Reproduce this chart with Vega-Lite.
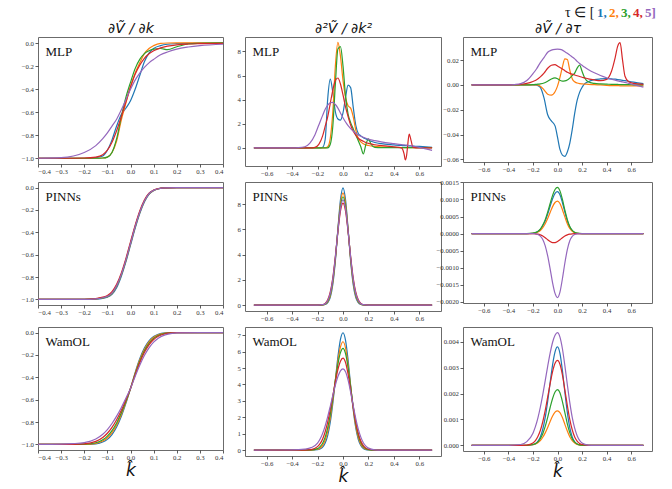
{
"$schema": "https://vega.github.io/schema/vega-lite/v6.json",
"autosize": {"type": "pad"},
"padding": {"left": 20, "top": 6, "right": 5, "bottom": 0},
"background": "white",
"config": {
  "view": {"stroke": "#6b6b6b", "strokeWidth": 1},
  "font": "Liberation Serif",
  "axis": {"domain": false, "grid": false, "tickSize": 3, "tickColor": "#333", "tickWidth": 0.8, "labelFont": "Liberation Serif", "labelFontSize": 6.8, "labelColor": "#333", "labelPadding": 1.5},
  "axisY": {"titleAngle": 0, "titleX": 7, "titleY": 18, "titleAlign": "left", "titleBaseline": "alphabetic", "titleFont": "Liberation Serif", "titleFontSize": 13, "titleFontWeight": "normal", "titleColor": "#111", "titlePadding": 0},
  "axisX": {"titleFont": "DejaVu Sans", "titleFontSize": 17, "titleFontStyle": "italic", "titleFontWeight": "normal", "titleColor": "#111", "titlePadding": 1},
  "line": {"strokeWidth": 1.2, "interpolate": "monotone", "clip": true}
},
"datasets": {
"A": [
{"x":-0.4,"1":-1,"2":-1,"3":-1,"4":-1,"5":-1},
{"x":-0.3,"1":-1,"2":-1,"3":-1,"4":-1,"5":-0.995},
{"x":-0.2,"1":-1,"2":-1,"3":-1,"4":-0.998,"5":-0.95},
{"x":-0.15,"1":-0.995,"2":-1,"3":-1,"4":-0.99,"5":-0.89},
{"x":-0.12,"1":-0.98,"2":-0.998,"3":-0.998,"4":-0.97,"5":-0.83},
{"x":-0.1,"1":-0.93,"2":-0.99,"3":-0.99,"4":-0.93,"5":-0.78},
{"x":-0.08,"1":-0.84,"2":-0.95,"3":-0.95,"4":-0.86,"5":-0.72},
{"x":-0.06,"1":-0.72,"2":-0.85,"3":-0.83,"4":-0.76,"5":-0.66},
{"x":-0.04,"1":-0.62,"2":-0.67,"3":-0.64,"4":-0.64,"5":-0.58},
{"x":-0.02,"1":-0.565,"2":-0.52,"3":-0.47,"4":-0.51,"5":-0.49},
{"x":0,"1":-0.5,"2":-0.38,"3":-0.34,"4":-0.38,"5":-0.4},
{"x":0.02,"1":-0.4,"2":-0.26,"3":-0.22,"4":-0.27,"5":-0.32},
{"x":0.04,"1":-0.28,"2":-0.17,"3":-0.14,"4":-0.19,"5":-0.26},
{"x":0.06,"1":-0.16,"2":-0.09,"3":-0.09,"4":-0.13,"5":-0.21},
{"x":0.08,"1":-0.085,"2":-0.045,"3":-0.065,"4":-0.09,"5":-0.17},
{"x":0.1,"1":-0.045,"2":-0.02,"3":-0.05,"4":-0.065,"5":-0.14},
{"x":0.13,"1":-0.02,"2":0,"3":-0.045,"4":-0.04,"5":-0.1},
{"x":0.16,"1":-0.008,"2":0.003,"3":-0.055,"4":-0.025,"5":-0.075},
{"x":0.2,"1":-0.003,"2":0.004,"3":-0.03,"4":-0.013,"5":-0.05},
{"x":0.25,"1":0,"2":0.004,"3":-0.006,"4":-0.006,"5":-0.032},
{"x":0.3,"1":0.002,"2":0.004,"3":0,"4":-0.003,"5":-0.02},
{"x":0.4,"1":0.003,"2":0.005,"3":0.004,"4":0,"5":-0.008}
],
"B": [
{"x":-0.4,"1":-1,"2":-1,"3":-1,"4":-1,"5":-1},
{"x":-0.2,"1":-1,"2":-1,"3":-1,"4":-1,"5":-1},
{"x":-0.15,"1":-0.997,"2":-0.996,"3":-0.996,"4":-0.993,"5":-0.995},
{"x":-0.12,"1":-0.99,"2":-0.987,"3":-0.987,"4":-0.98,"5":-0.985},
{"x":-0.1,"1":-0.98,"2":-0.976,"3":-0.975,"4":-0.965,"5":-0.973},
{"x":-0.08,"1":-0.955,"2":-0.947,"3":-0.945,"4":-0.93,"5":-0.943},
{"x":-0.06,"1":-0.895,"2":-0.883,"3":-0.88,"4":-0.865,"5":-0.878},
{"x":-0.04,"1":-0.795,"2":-0.783,"3":-0.78,"4":-0.765,"5":-0.778},
{"x":-0.02,"1":-0.665,"2":-0.653,"3":-0.65,"4":-0.635,"5":-0.648},
{"x":0,"1":-0.515,"2":-0.503,"3":-0.5,"4":-0.485,"5":-0.5},
{"x":0.02,"1":-0.365,"2":-0.353,"3":-0.35,"4":-0.338,"5":-0.35},
{"x":0.04,"1":-0.232,"2":-0.223,"3":-0.22,"4":-0.21,"5":-0.22},
{"x":0.06,"1":-0.128,"2":-0.122,"3":-0.12,"4":-0.112,"5":-0.12},
{"x":0.08,"1":-0.06,"2":-0.057,"3":-0.055,"4":-0.05,"5":-0.055},
{"x":0.1,"1":-0.027,"2":-0.026,"3":-0.025,"4":-0.022,"5":-0.025},
{"x":0.12,"1":-0.011,"2":-0.01,"3":-0.01,"4":-0.009,"5":-0.01},
{"x":0.15,"1":-0.002,"2":-0.002,"3":-0.002,"4":-0.002,"5":-0.002},
{"x":0.2,"1":0,"2":0,"3":0,"4":0,"5":0},
{"x":0.4,"1":0,"2":0,"3":0,"4":0,"5":0}
],
"C": [
{"x":-0.4,"1":-1,"2":-1,"3":-1,"4":-1,"5":-0.999},
{"x":-0.3,"1":-1,"2":-1,"3":-1,"4":-1,"5":-0.997},
{"x":-0.25,"1":-1,"2":-1,"3":-0.9998,"4":-0.9993,"5":-0.993},
{"x":-0.2,"1":-0.9997,"2":-0.9991,"3":-0.998,"4":-0.9948,"5":-0.984},
{"x":-0.15,"1":-0.9945,"2":-0.99,"3":-0.985,"4":-0.973,"5":-0.952},
{"x":-0.12,"1":-0.979,"2":-0.97,"3":-0.959,"4":-0.938,"5":-0.909},
{"x":-0.1,"1":-0.955,"2":-0.941,"3":-0.926,"4":-0.9,"5":-0.867},
{"x":-0.08,"1":-0.912,"2":-0.894,"3":-0.877,"4":-0.8475,"5":-0.813},
{"x":-0.06,"1":-0.845,"2":-0.826,"3":-0.808,"4":-0.779,"5":-0.7475},
{"x":-0.04,"1":-0.751,"2":-0.734,"3":-0.719,"4":-0.696,"5":-0.6715},
{"x":-0.02,"1":-0.633,"2":-0.623,"3":-0.614,"4":-0.601,"5":-0.588},
{"x":0,"1":-0.5,"2":-0.5,"3":-0.5,"4":-0.5,"5":-0.5},
{"x":0.02,"1":-0.358,"2":-0.365,"3":-0.373,"4":-0.379,"5":-0.392},
{"x":0.04,"1":-0.234,"2":-0.245,"3":-0.258,"4":-0.269,"5":-0.292},
{"x":0.06,"1":-0.138,"2":-0.151,"3":-0.1645,"4":-0.178,"5":-0.2055},
{"x":0.08,"1":-0.073,"2":-0.084,"3":-0.097,"4":-0.109,"5":-0.1365},
{"x":0.1,"1":-0.0345,"2":-0.042,"3":-0.052,"4":-0.062,"5":-0.085},
{"x":0.12,"1":-0.0146,"2":-0.019,"3":-0.0255,"4":-0.0324,"5":-0.05},
{"x":0.15,"1":-0.0032,"2":-0.005,"3":-0.007,"4":-0.0105,"5":-0.02},
{"x":0.18,"1":-0.0005,"2":-0.001,"3":-0.0017,"4":-0.0028,"5":-0.0068},
{"x":0.2,"1":0,"2":0,"3":-0.0006,"4":-0.001,"5":-0.003},
{"x":0.3,"1":0,"2":0,"3":0,"4":0,"5":0},
{"x":0.4,"1":0,"2":0,"3":0,"4":0,"5":0}
],
"D": [
{"x":-0.7,"1":0,"2":0,"3":0,"4":0,"5":0},
{"x":-0.5,"1":0,"2":0,"3":0,"4":0,"5":0},
{"x":-0.4,"1":0,"2":0,"3":0,"4":0,"5":0},
{"x":-0.35,"1":0,"2":0,"3":0,"4":0,"5":0.02},
{"x":-0.3,"1":0,"2":0,"3":0,"4":0,"5":0.1},
{"x":-0.26,"1":0,"2":0,"3":0,"4":0,"5":0.4},
{"x":-0.22,"1":0,"2":0,"3":0,"4":0.05,"5":1.1},
{"x":-0.19,"1":0,"2":0,"3":0,"4":0.3,"5":1.9},
{"x":-0.16,"1":0.05,"2":0,"3":0,"4":1.0,"5":2.7},
{"x":-0.14,"1":0.7,"2":0,"3":0,"4":1.8,"5":3.2},
{"x":-0.12,"1":4.1,"2":0.1,"3":0,"4":2.6,"5":3.55},
{"x":-0.1,"1":5.7,"2":0.8,"3":0.3,"4":3.7,"5":3.75},
{"x":-0.08,"1":4.6,"2":3.0,"3":1.8,"4":4.8,"5":3.78},
{"x":-0.06,"1":3.0,"2":6.8,"3":5.3,"4":5.6,"5":3.6},
{"x":-0.04,"1":2.4,"2":8.75,"3":8.2,"4":5.8,"5":3.3},
{"x":-0.02,"1":2.3,"2":7.6,"3":8.4,"4":5.3,"5":2.9},
{"x":0,"1":2.9,"2":5.6,"3":6.8,"4":4.4,"5":2.5},
{"x":0.02,"1":4.2,"2":4.2,"3":4.3,"4":3.4,"5":2.15},
{"x":0.04,"1":5.2,"2":3.5,"3":2.8,"4":2.6,"5":1.85},
{"x":0.06,"1":5.0,"2":3.3,"3":2.1,"4":1.9,"5":1.6},
{"x":0.08,"1":3.4,"2":2.6,"3":1.6,"4":1.4,"5":1.4},
{"x":0.1,"1":1.9,"2":1.5,"3":1.1,"4":1.05,"5":1.22},
{"x":0.12,"1":1.2,"2":0.8,"3":0.6,"4":0.8,"5":1.08},
{"x":0.14,"1":1.0,"2":0.5,"3":0.1,"4":0.65,"5":0.97},
{"x":0.16,"1":0.85,"2":0.35,"3":-0.5,"4":0.55,"5":0.88},
{"x":0.18,"1":0.75,"2":0.25,"3":0.3,"4":0.45,"5":0.8},
{"x":0.2,"1":0.65,"2":0.2,"3":0.75,"4":0.38,"5":0.73},
{"x":0.22,"1":0.55,"2":0.16,"3":0.3,"4":0.33,"5":0.67},
{"x":0.25,"1":0.45,"2":0.12,"3":0.05,"4":0.26,"5":0.6},
{"x":0.3,"1":0.35,"2":0.08,"3":0.02,"4":0.2,"5":0.5},
{"x":0.4,"1":0.25,"2":0.04,"3":0.02,"4":0.08,"5":0.35},
{"x":0.46,"1":0.2,"2":0.03,"3":0.02,"4":0,"5":0.27},
{"x":0.48,"1":0.19,"2":0.02,"3":0.02,"4":-0.5,"5":0.25},
{"x":0.49,"1":0.19,"2":0.02,"3":0.02,"4":-1.0,"5":0.24},
{"x":0.5,"1":0.18,"2":0.02,"3":0.02,"4":-0.6,"5":0.23},
{"x":0.51,"1":0.17,"2":0.02,"3":0.02,"4":0.4,"5":0.22},
{"x":0.52,"1":0.17,"2":0.02,"3":0.02,"4":1.15,"5":0.2},
{"x":0.535,"1":0.16,"2":0.02,"3":0.02,"4":0.6,"5":0.18},
{"x":0.55,"1":0.15,"2":0.02,"3":0.02,"4":0.05,"5":0.15},
{"x":0.6,"1":0.12,"2":0.02,"3":0.02,"4":0,"5":0.05},
{"x":0.7,"1":0.05,"2":0.02,"3":0.02,"4":0,"5":-0.2}
],
"E": [
{"x":-0.7,"1":0,"2":0,"3":0,"4":0,"5":0},
{"x":-0.3,"1":0,"2":0,"3":0,"4":0,"5":0},
{"x":-0.2,"1":0.001,"2":0.002,"3":0.003,"4":0.006,"5":0.004},
{"x":-0.16,"1":0.009,"2":0.015,"3":0.02,"4":0.04,"5":0.03},
{"x":-0.14,"1":0.046,"2":0.07,"3":0.09,"4":0.14,"5":0.11},
{"x":-0.12,"1":0.19,"2":0.25,"3":0.3,"4":0.42,"5":0.36},
{"x":-0.1,"1":0.62,"2":0.74,"3":0.84,"4":1.04,"5":0.94},
{"x":-0.08,"1":1.65,"2":1.81,"3":1.95,"4":2.17,"5":2.06},
{"x":-0.06,"1":3.51,"2":3.63,"3":3.73,"4":3.86,"5":3.8},
{"x":-0.04,"1":6.04,"2":5.98,"3":5.93,"4":5.83,"5":5.88},
{"x":-0.02,"1":8.35,"2":8.05,"3":7.84,"4":7.46,"5":7.65},
{"x":0,"1":9.3,"2":8.9,"3":8.6,"4":8.1,"5":8.35},
{"x":0.02,"1":8.35,"2":8.05,"3":7.84,"4":7.46,"5":7.65},
{"x":0.04,"1":6.04,"2":5.98,"3":5.93,"4":5.83,"5":5.88},
{"x":0.06,"1":3.51,"2":3.63,"3":3.73,"4":3.86,"5":3.8},
{"x":0.08,"1":1.65,"2":1.81,"3":1.95,"4":2.17,"5":2.06},
{"x":0.1,"1":0.62,"2":0.74,"3":0.84,"4":1.04,"5":0.94},
{"x":0.12,"1":0.19,"2":0.25,"3":0.3,"4":0.42,"5":0.36},
{"x":0.14,"1":0.046,"2":0.07,"3":0.09,"4":0.14,"5":0.11},
{"x":0.16,"1":0.009,"2":0.015,"3":0.02,"4":0.04,"5":0.03},
{"x":0.2,"1":0.001,"2":0.002,"3":0.003,"4":0.006,"5":0.004},
{"x":0.3,"1":0,"2":0,"3":0,"4":0,"5":0},
{"x":0.7,"1":0,"2":0,"3":0,"4":0,"5":0}
],
"F": [
{"x":-0.7,"1":0,"2":0,"3":0,"4":0,"5":0},
{"x":-0.4,"1":0,"2":0,"3":0,"4":0,"5":0.01},
{"x":-0.3,"1":0,"2":0,"3":0,"4":0.002,"5":0.06},
{"x":-0.25,"1":0,"2":0.003,"3":0.01,"4":0.03,"5":0.15},
{"x":-0.2,"1":0.02,"2":0.05,"3":0.09,"4":0.21,"5":0.42},
{"x":-0.18,"1":0.07,"2":0.13,"3":0.21,"4":0.39,"5":0.67},
{"x":-0.16,"1":0.18,"2":0.29,"3":0.42,"4":0.68,"5":1.02},
{"x":-0.14,"1":0.43,"2":0.6,"3":0.79,"4":1.12,"5":1.48},
{"x":-0.12,"1":0.9,"2":1.14,"3":1.37,"4":1.72,"5":2.04},
{"x":-0.1,"1":1.7,"2":1.95,"3":2.17,"4":2.46,"5":2.67},
{"x":-0.08,"1":2.85,"2":3.02,"3":3.17,"4":3.31,"5":3.33},
{"x":-0.06,"1":4.26,"2":4.25,"3":4.25,"4":4.16,"5":3.96},
{"x":-0.04,"1":5.68,"2":5.43,"3":5.24,"4":4.91,"5":4.48},
{"x":-0.02,"1":6.75,"2":6.28,"3":5.94,"4":5.42,"5":4.83},
{"x":0,"1":7.15,"2":6.6,"3":6.2,"4":5.6,"5":4.95},
{"x":0.02,"1":6.69,"2":6.22,"3":5.88,"4":5.34,"5":4.77},
{"x":0.04,"1":5.49,"2":5.2,"3":5.02,"4":4.63,"5":4.26},
{"x":0.06,"1":3.94,"2":3.87,"3":3.85,"4":3.66,"5":3.53},
{"x":0.08,"1":2.48,"2":2.55,"3":2.66,"4":2.63,"5":2.72},
{"x":0.1,"1":1.37,"2":1.49,"3":1.65,"4":1.72,"5":1.94},
{"x":0.12,"1":0.66,"2":0.78,"3":0.92,"4":1.02,"5":1.28},
{"x":0.14,"1":0.28,"2":0.36,"3":0.46,"4":0.55,"5":0.79},
{"x":0.16,"1":0.1,"2":0.15,"3":0.21,"4":0.27,"5":0.45},
{"x":0.18,"1":0.03,"2":0.05,"3":0.09,"4":0.12,"5":0.24},
{"x":0.2,"1":0.01,"2":0.02,"3":0.03,"4":0.05,"5":0.12},
{"x":0.25,"1":0,"2":0,"3":0,"4":0.005,"5":0.015},
{"x":0.3,"1":0,"2":0,"3":0,"4":0,"5":0},
{"x":0.4,"1":0,"2":0,"3":0,"4":0,"5":0},
{"x":0.7,"1":0,"2":0,"3":0,"4":0,"5":0}
],
"G": [
{"x":-0.7,"1":0,"2":0,"3":0,"4":0,"5":0},
{"x":-0.4,"1":0,"2":0,"3":0,"4":0,"5":0},
{"x":-0.35,"1":0,"2":0,"3":0,"4":0.0002,"5":0.0003},
{"x":-0.3,"1":0,"2":0,"3":0,"4":0.0005,"5":0.001},
{"x":-0.25,"1":0,"2":0,"3":0,"4":0.0012,"5":0.0035},
{"x":-0.2,"1":0,"2":0,"3":0.0002,"4":0.0028,"5":0.009},
{"x":-0.17,"1":-0.0002,"2":0,"3":0.0005,"4":0.0042,"5":0.013},
{"x":-0.14,"1":-0.002,"2":-0.001,"3":0.0008,"4":0.0065,"5":0.018},
{"x":-0.11,"1":-0.0105,"2":-0.004,"3":0.0015,"4":0.0095,"5":0.022},
{"x":-0.08,"1":-0.024,"2":-0.0075,"3":0.003,"4":0.0134,"5":0.0263},
{"x":-0.05,"1":-0.029,"2":-0.0083,"3":0.0048,"4":0.0158,"5":0.028},
{"x":-0.02,"1":-0.033,"2":-0.0055,"3":0.0057,"4":0.0163,"5":0.0287},
{"x":0,"1":-0.042,"2":-0.001,"3":0.005,"4":0.0152,"5":0.0288},
{"x":0.02,"1":-0.052,"2":0.006,"3":0.0038,"4":0.014,"5":0.0286},
{"x":0.04,"1":-0.0565,"2":0.0145,"3":0.003,"4":0.0128,"5":0.028},
{"x":0.06,"1":-0.0575,"2":0.021,"3":0.0032,"4":0.0115,"5":0.0268},
{"x":0.08,"1":-0.054,"2":0.0205,"3":0.004,"4":0.0102,"5":0.0255},
{"x":0.1,"1":-0.047,"2":0.012,"3":0.0055,"4":0.0093,"5":0.024},
{"x":0.12,"1":-0.036,"2":0.005,"3":0.0075,"4":0.0087,"5":0.0225},
{"x":0.14,"1":-0.023,"2":0.0025,"3":0.0095,"4":0.008,"5":0.021},
{"x":0.16,"1":-0.0125,"2":0.0015,"3":0.0135,"4":0.0074,"5":0.019},
{"x":0.18,"1":-0.006,"2":0.001,"3":0.016,"4":0.0068,"5":0.0172},
{"x":0.2,"1":-0.002,"2":0.0008,"3":0.011,"4":0.0062,"5":0.0158},
{"x":0.22,"1":0.0008,"2":0.0007,"3":0.006,"4":0.0057,"5":0.0144},
{"x":0.25,"1":0.0025,"2":0.0005,"3":0.0025,"4":0.0049,"5":0.0125},
{"x":0.3,"1":0.0043,"2":0.0002,"3":0.0012,"4":0.004,"5":0.0098},
{"x":0.35,"1":0.0048,"2":0,"3":0.0008,"4":0.0035,"5":0.0076},
{"x":0.4,"1":0.005,"2":-0.0003,"3":0.0006,"4":0.0045,"5":0.0058},
{"x":0.44,"1":0.0049,"2":-0.0005,"3":0.0005,"4":0.011,"5":0.0046},
{"x":0.47,"1":0.0046,"2":-0.0006,"3":0.0004,"4":0.022,"5":0.0038},
{"x":0.49,"1":0.0043,"2":-0.0006,"3":0.0004,"4":0.031,"5":0.0033},
{"x":0.51,"1":0.004,"2":-0.0007,"3":0.0003,"4":0.034,"5":0.0029},
{"x":0.53,"1":0.0037,"2":-0.0007,"3":0.0003,"4":0.02,"5":0.0024},
{"x":0.55,"1":0.0034,"2":-0.0007,"3":0.0002,"4":0.007,"5":0.002},
{"x":0.58,"1":0.0029,"2":-0.0008,"3":0.0002,"4":0.0025,"5":0.0012},
{"x":0.62,"1":0.0022,"2":-0.0008,"3":0.0001,"4":0.0012,"5":0.0002},
{"x":0.7,"1":0.001,"2":-0.0008,"3":0,"4":0.0005,"5":-0.0018}
],
"H": [
{"x":-0.7,"1":0,"2":0,"3":0,"4":0,"5":0},
{"x":-0.3,"1":0,"2":0,"3":0,"4":0,"5":0},
{"x":-0.25,"1":0,"2":0,"3":0,"4":0,"5":0},
{"x":-0.2,"1":0.00001,"2":0.000008,"3":0.000012,"4":0,"5":0},
{"x":-0.18,"1":0.000027,"2":0.00002,"3":0.00003,"4":-0.0000066,"5":-0.000009},
{"x":-0.16,"1":0.00006,"2":0.000046,"3":0.000065,"4":-0.000017,"5":-0.000027},
{"x":-0.14,"1":0.00012,"2":0.00009,"3":0.00013,"4":-0.000037,"5":-0.000073},
{"x":-0.12,"1":0.00023,"2":0.000176,"3":0.00025,"4":-0.000071,"5":-0.00017},
{"x":-0.1,"1":0.00037,"2":0.00029,"3":0.00041,"4":-0.00012,"5":-0.00036},
{"x":-0.08,"1":0.00057,"2":0.00044,"3":0.00063,"4":-0.000178,"5":-0.00065},
{"x":-0.06,"1":0.0008,"2":0.00062,"3":0.00088,"4":-0.000233,"5":-0.00103},
{"x":-0.04,"1":0.00102,"2":0.00079,"3":0.00112,"4":-0.000266,"5":-0.00144},
{"x":-0.02,"1":0.00118,"2":0.00091,"3":0.00129,"4":-0.000266,"5":-0.00175},
{"x":0,"1":0.00123,"2":0.00095,"3":0.00135,"4":-0.000233,"5":-0.00187},
{"x":0.02,"1":0.00114,"2":0.00088,"3":0.00125,"4":-0.000178,"5":-0.00171},
{"x":0.04,"1":0.00091,"2":0.0007,"3":0.001,"4":-0.00012,"5":-0.00132},
{"x":0.06,"1":0.00063,"2":0.00049,"3":0.00069,"4":-0.000071,"5":-0.00086},
{"x":0.08,"1":0.00037,"2":0.00029,"3":0.00041,"4":-0.000037,"5":-0.00047},
{"x":0.1,"1":0.00019,"2":0.00015,"3":0.00021,"4":-0.000017,"5":-0.00021},
{"x":0.12,"1":0.000086,"2":0.000066,"3":0.000094,"4":-0.0000066,"5":-0.000082},
{"x":0.14,"1":0.000033,"2":0.000025,"3":0.000036,"4":-0.000002,"5":-0.000027},
{"x":0.16,"1":0.000011,"2":0.000008,"3":0.000012,"4":0,"5":-0.000007},
{"x":0.2,"1":0,"2":0,"3":0,"4":0,"5":0},
{"x":0.25,"1":0,"2":0,"3":0,"4":0,"5":0},
{"x":0.3,"1":0,"2":0,"3":0,"4":0,"5":0},
{"x":0.7,"1":0,"2":0,"3":0,"4":0,"5":0}
],
"I": [
{"x":-0.7,"1":0,"2":0,"3":0,"4":0,"5":0},
{"x":-0.4,"1":0,"2":0,"3":0,"4":0,"5":0},
{"x":-0.3,"1":0,"2":0,"3":0,"4":0,"5":0.00003},
{"x":-0.25,"1":0,"2":0.000002,"3":0,"4":0.00001,"5":0.00014},
{"x":-0.2,"1":0.000025,"2":0.000022,"3":0.00003,"4":0.00009,"5":0.00047},
{"x":-0.18,"1":0.00006,"2":0.000049,"3":0.000065,"4":0.00018,"5":0.00072},
{"x":-0.16,"1":0.00015,"2":0.0001,"3":0.000135,"4":0.00034,"5":0.00105},
{"x":-0.14,"1":0.00032,"2":0.00018,"3":0.00026,"4":0.00057,"5":0.00147},
{"x":-0.12,"1":0.00062,"2":0.00031,"3":0.00045,"4":0.00091,"5":0.00196},
{"x":-0.1,"1":0.00108,"2":0.00048,"3":0.00073,"4":0.00135,"5":0.0025},
{"x":-0.08,"1":0.0017,"2":0.00069,"3":0.00108,"4":0.00186,"5":0.00305},
{"x":-0.06,"1":0.00242,"2":0.00092,"3":0.00146,"4":0.00238,"5":0.00356},
{"x":-0.04,"1":0.00311,"2":0.00113,"3":0.00181,"4":0.00285,"5":0.00398},
{"x":-0.02,"1":0.00361,"2":0.00128,"3":0.00206,"4":0.00317,"5":0.00425},
{"x":0,"1":0.0038,"2":0.00133,"3":0.00215,"4":0.00328,"5":0.00435},
{"x":0.02,"1":0.00355,"2":0.00126,"3":0.00203,"4":0.00313,"5":0.00418},
{"x":0.04,"1":0.00289,"2":0.00107,"3":0.00169,"4":0.00272,"5":0.00373},
{"x":0.06,"1":0.00205,"2":0.00081,"3":0.00126,"4":0.00214,"5":0.00308},
{"x":0.08,"1":0.00127,"2":0.00055,"3":0.00083,"4":0.00154,"5":0.00235},
{"x":0.1,"1":0.00068,"2":0.00033,"3":0.00049,"4":0.001,"5":0.00166},
{"x":0.12,"1":0.00032,"2":0.00018,"3":0.00025,"4":0.0006,"5":0.00108},
{"x":0.14,"1":0.00013,"2":0.000087,"3":0.00012,"4":0.00032,"5":0.00066},
{"x":0.16,"1":0.00005,"2":0.000038,"3":0.000048,"4":0.00016,"5":0.00037},
{"x":0.18,"1":0.000015,"2":0.000015,"3":0.000017,"4":0.00007,"5":0.00019},
{"x":0.2,"1":0,"2":0.000005,"3":0.000006,"4":0.00003,"5":0.00009},
{"x":0.25,"1":0,"2":0,"3":0,"4":0,"5":0.00001},
{"x":0.3,"1":0,"2":0,"3":0,"4":0,"5":0},
{"x":0.4,"1":0,"2":0,"3":0,"4":0,"5":0},
{"x":0.7,"1":0,"2":0,"3":0,"4":0,"5":0}
]
},
"columns": 3,
"align": "each",
"bounds": "flush",
"spacing": {"row": 16, "column": 22},
"concat": [
{
 "width": 185, "height": 127,
 "data": {"name": "A"},
 "transform": [{"fold": ["1","2","3","4","5"]}],
 "layer": [
  {"mark": "line",
   "encoding": {
    "x": {"field": "x", "type": "quantitative", "scale": {"domain": [-0.4, 0.4], "nice": false, "zero": false}, "axis": {"values": [-0.4,-0.3,-0.2,-0.1,0,0.1,0.2,0.3,0.4], "format": ".1f", "title": null}},
    "y": {"field": "value", "type": "quantitative", "scale": {"domain": [-1.05, 0.055], "nice": false, "zero": false}, "axis": {"values": [-1,-0.8,-0.6,-0.4,-0.2,0], "format": ".1f", "title": "MLP"}},
    "color": {"field": "key", "type": "nominal", "title": "τ ∈ [", "scale": {"domain": ["1","2","3","4","5"], "range": ["#1f77b4","#ff7f0e","#2ca02c","#d62728","#9467bd"]}, "legend": {"orient": "none", "legendX": 527, "legendY": -31, "direction": "horizontal", "gridAlign": "none", "titleOrient": "left", "titleFont": "Liberation Serif", "titleFontSize": 14, "titleFontWeight": "normal", "titleColor": "#111", "titlePadding": 2, "symbolType": "circle", "symbolSize": 0.01, "symbolStrokeWidth": 0, "symbolOpacity": 0, "labelOffset": -13, "columnPadding": 2, "padding": 0, "labelFont": "Liberation Serif", "labelFontSize": 13, "labelFontWeight": "bold", "labelExpr": "datum.value == '5' ? '5]' : datum.value + ','", "labelColor": {"expr": "datum.value == '1' ? '#1f77b4' : datum.value == '2' ? '#ff7f0e' : datum.value == '3' ? '#2ca02c' : datum.value == '4' ? '#d62728' : '#9467bd'"}}}
   }},
  {"mark": {"type": "point", "opacity": 0},
   "encoding": {
    "x": {"field": "x", "type": "quantitative", "axis": {"orient": "top", "title": "∂V\u0303 / ∂k", "labels": false, "ticks": false, "domain": false, "titleY": -5, "titleBaseline": "alphabetic", "titleFont": "DejaVu Sans", "titleFontSize": 14, "titleFontStyle": "italic", "titleFontWeight": "normal", "titleColor": "#111"}}
   }}
 ],
 "resolve": {"axis": {"x": "independent"}}
},
{
 "width": 196, "height": 129,
 "data": {"name": "D"},
 "transform": [{"fold": ["1","2","3","4","5"]}],
 "layer": [
  {"mark": "line",
   "encoding": {
    "x": {"field": "x", "type": "quantitative", "scale": {"domain": [-0.77, 0.77], "nice": false, "zero": false}, "axis": {"values": [-0.6,-0.4,-0.2,0,0.2,0.4,0.6], "format": ".1f", "title": null}},
    "y": {"field": "value", "type": "quantitative", "scale": {"domain": [-1.5, 9.2], "nice": false, "zero": false}, "axis": {"values": [0,2,4,6,8], "format": "d", "title": "MLP"}},
    "color": {"field": "key", "type": "nominal", "title": "τ ∈ [", "scale": {"domain": ["1","2","3","4","5"], "range": ["#1f77b4","#ff7f0e","#2ca02c","#d62728","#9467bd"]}}
   }},
  {"mark": {"type": "point", "opacity": 0},
   "encoding": {
    "x": {"field": "x", "type": "quantitative", "axis": {"orient": "top", "title": "∂²V\u0303 / ∂k²", "labels": false, "ticks": false, "domain": false, "titleY": -5, "titleBaseline": "alphabetic", "titleFont": "DejaVu Sans", "titleFontSize": 14, "titleFontStyle": "italic", "titleFontWeight": "normal", "titleColor": "#111"}}
   }}
 ],
 "resolve": {"axis": {"x": "independent"}}
},
{
 "width": 189, "height": 125,
 "data": {"name": "G"},
 "transform": [{"fold": ["1","2","3","4","5"]}],
 "layer": [
  {"mark": "line",
   "encoding": {
    "x": {"field": "x", "type": "quantitative", "scale": {"domain": [-0.77, 0.77], "nice": false, "zero": false}, "axis": {"values": [-0.6,-0.4,-0.2,0,0.2,0.4,0.6], "format": ".1f", "title": null}},
    "y": {"field": "value", "type": "quantitative", "scale": {"domain": [-0.0621, 0.0386], "nice": false, "zero": false}, "axis": {"values": [-0.06,-0.04,-0.02,0,0.02], "format": ".2f", "title": "MLP"}},
    "color": {"field": "key", "type": "nominal", "title": "τ ∈ [", "scale": {"domain": ["1","2","3","4","5"], "range": ["#1f77b4","#ff7f0e","#2ca02c","#d62728","#9467bd"]}}
   }},
  {"mark": {"type": "point", "opacity": 0},
   "encoding": {
    "x": {"field": "x", "type": "quantitative", "axis": {"orient": "top", "title": "∂V\u0303 / ∂τ", "labels": false, "ticks": false, "domain": false, "titleY": -5, "titleBaseline": "alphabetic", "titleFont": "DejaVu Sans", "titleFontSize": 14, "titleFontStyle": "italic", "titleFontWeight": "normal", "titleColor": "#111"}}
   }}
 ],
 "resolve": {"axis": {"x": "independent"}}
},
{
 "width": 185, "height": 123,
 "data": {"name": "B"},
 "transform": [{"fold": ["1","2","3","4","5"]}],
 "mark": "line",
 "encoding": {
  "x": {"field": "x", "type": "quantitative", "scale": {"domain": [-0.4, 0.4], "nice": false, "zero": false}, "axis": {"values": [-0.4,-0.3,-0.2,-0.1,0,0.1,0.2,0.3,0.4], "format": ".1f", "title": null}},
  "y": {"field": "value", "type": "quantitative", "scale": {"domain": [-1.05, 0.05], "nice": false, "zero": false}, "axis": {"values": [-1,-0.8,-0.6,-0.4,-0.2,0], "format": ".1f", "title": "PINNs"}},
  "color": {"field": "key", "type": "nominal", "title": "τ ∈ [", "scale": {"domain": ["1","2","3","4","5"], "range": ["#1f77b4","#ff7f0e","#2ca02c","#d62728","#9467bd"]}}
 }
},
{
 "width": 196, "height": 129,
 "data": {"name": "E"},
 "transform": [{"fold": ["1","2","3","4","5"]}],
 "mark": "line",
 "encoding": {
  "x": {"field": "x", "type": "quantitative", "scale": {"domain": [-0.77, 0.77], "nice": false, "zero": false}, "axis": {"values": [-0.6,-0.4,-0.2,0,0.2,0.4,0.6], "format": ".1f", "title": null}},
  "y": {"field": "value", "type": "quantitative", "scale": {"domain": [-0.47, 9.77], "nice": false, "zero": false}, "axis": {"values": [0,2,4,6,8], "format": "d", "title": "PINNs"}},
  "color": {"field": "key", "type": "nominal", "title": "τ ∈ [", "scale": {"domain": ["1","2","3","4","5"], "range": ["#1f77b4","#ff7f0e","#2ca02c","#d62728","#9467bd"]}}
 }
},
{
 "width": 189, "height": 121,
 "data": {"name": "H"},
 "transform": [{"fold": ["1","2","3","4","5"]}],
 "mark": "line",
 "encoding": {
  "x": {"field": "x", "type": "quantitative", "scale": {"domain": [-0.77, 0.77], "nice": false, "zero": false}, "axis": {"values": [-0.6,-0.4,-0.2,0,0.2,0.4,0.6], "format": ".1f", "title": null}},
  "y": {"field": "value", "type": "quantitative", "scale": {"domain": [-0.00203, 0.00151], "nice": false, "zero": false}, "axis": {"values": [-0.002,-0.0015,-0.001,-0.0005,0,0.0005,0.001,0.0015], "format": ".4f", "title": "PINNs"}},
  "color": {"field": "key", "type": "nominal", "title": "τ ∈ [", "scale": {"domain": ["1","2","3","4","5"], "range": ["#1f77b4","#ff7f0e","#2ca02c","#d62728","#9467bd"]}}
 }
},
{
 "width": 185, "height": 123,
 "data": {"name": "C"},
 "transform": [{"fold": ["1","2","3","4","5"]}],
 "mark": "line",
 "encoding": {
  "x": {"field": "x", "type": "quantitative", "scale": {"domain": [-0.4, 0.4], "nice": false, "zero": false}, "axis": {"values": [-0.4,-0.3,-0.2,-0.1,0,0.1,0.2,0.3,0.4], "format": ".1f", "title": "k\u0302"}},
  "y": {"field": "value", "type": "quantitative", "scale": {"domain": [-1.05, 0.05], "nice": false, "zero": false}, "axis": {"values": [-1,-0.8,-0.6,-0.4,-0.2,0], "format": ".1f", "title": "WamOL"}},
  "color": {"field": "key", "type": "nominal", "title": "τ ∈ [", "scale": {"domain": ["1","2","3","4","5"], "range": ["#1f77b4","#ff7f0e","#2ca02c","#d62728","#9467bd"]}}
 }
},
{
 "width": 196, "height": 129,
 "data": {"name": "F"},
 "transform": [{"fold": ["1","2","3","4","5"]}],
 "mark": "line",
 "encoding": {
  "x": {"field": "x", "type": "quantitative", "scale": {"domain": [-0.77, 0.77], "nice": false, "zero": false}, "axis": {"values": [-0.6,-0.4,-0.2,0,0.2,0.4,0.6], "format": ".1f", "title": "k\u0302"}},
  "y": {"field": "value", "type": "quantitative", "scale": {"domain": [-0.36, 7.5], "nice": false, "zero": false}, "axis": {"values": [0,1,2,3,4,5,6,7], "format": "d", "title": "WamOL"}},
  "color": {"field": "key", "type": "nominal", "title": "τ ∈ [", "scale": {"domain": ["1","2","3","4","5"], "range": ["#1f77b4","#ff7f0e","#2ca02c","#d62728","#9467bd"]}}
 }
},
{
 "width": 189, "height": 124,
 "data": {"name": "I"},
 "transform": [{"fold": ["1","2","3","4","5"]}],
 "mark": "line",
 "encoding": {
  "x": {"field": "x", "type": "quantitative", "scale": {"domain": [-0.77, 0.77], "nice": false, "zero": false}, "axis": {"values": [-0.6,-0.4,-0.2,0,0.2,0.4,0.6], "format": ".1f", "title": "k\u0302"}},
  "y": {"field": "value", "type": "quantitative", "scale": {"domain": [-0.00022, 0.00457], "nice": false, "zero": false}, "axis": {"values": [0,0.001,0.002,0.003,0.004], "format": ".3f", "title": "WamOL"}},
  "color": {"field": "key", "type": "nominal", "title": "τ ∈ [", "scale": {"domain": ["1","2","3","4","5"], "range": ["#1f77b4","#ff7f0e","#2ca02c","#d62728","#9467bd"]}}
 }
}
]
}
